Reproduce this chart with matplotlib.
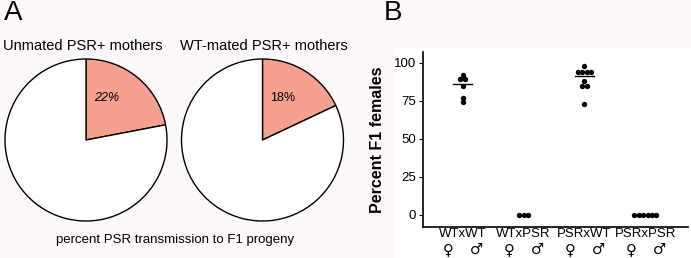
import matplotlib.pyplot as plt
import matplotlib.patches as mpatches
import matplotlib.transforms as mtransforms
import numpy as np

# panel A
pie_titles = ['Unmated PSR+ mothers', 'WT-mated PSR+ mothers']
psr_transmission = [22, 18]
pie_label_italic = [True, False]

# panel B
crosses = ['WTxWT', 'WTxPSR', 'PSRxWT', 'PSRxPSR']
wt_wt = [92, 89, 89, 85, 77, 74]
wt_psr = [0, 0, 0]
psr_wt = [98, 94, 94, 94, 94, 88, 85, 85, 73]
psr_psr = [0, 0, 0, 0, 0, 0]
group_means = [86, 0, 91, 0]

W, H = 691, 258
BG = '#fbf8f7'
SALMON = '#f6a08f'
FONT = ['Liberation Sans', 'DejaVu Sans']

plt.rcParams['font.family'] = FONT

fig = plt.figure(figsize=(W / 100, H / 100), dpi=100, facecolor=BG)


def box(x0, y0, x1, y1):
    # pixel box (top-left origin) -> figure fraction rect
    return [x0 / W, 1 - y1 / H, (x1 - x0) / W, (y1 - y0) / H]


R = 81.0
pie_boxes = [(0, 55, 172, 225), (175, 55, 350, 225)]
for i, (x0, y0, x1, y1) in enumerate(pie_boxes):
    ax = fig.add_axes(box(x0, y0, x1, y1))
    ax.set_facecolor('white')
    for s in ax.spines.values():
        s.set_visible(False)
    ax.set_xticks([])
    ax.set_yticks([])
    val = psr_transmission[i]
    ax.pie([val, 100 - val], colors=[SALMON, 'white'], startangle=90,
           counterclock=False, radius=1.0,
           wedgeprops=dict(edgecolor='black', linewidth=1.0))
    cx = (x1 - x0) / 2.0
    cy = (y1 - y0) / 2.0
    ax.set_xlim(-cx / R, cx / R)
    ax.set_ylim(-cy / R, cy / R)
    ax.set_aspect('auto')
    ax.text(0.25, 0.52, '%d%%' % val, ha='center', va='center', fontsize=9,
            style='italic' if pie_label_italic[i] else 'normal')

fig.text(3 / W, 1 - 46 / H, pie_titles[0], fontsize=10.5, va='center', ha='left')
fig.text(180 / W, 1 - 46 / H, pie_titles[1], fontsize=10.5, va='center', ha='left')
fig.text(175 / W, 1 - 240 / H, 'percent PSR transmission to F1 progeny',
         fontsize=9.5, ha='center', va='center')
fig.text(4 / W, 1 - 13 / H, 'A', fontsize=20, ha='left', va='center')
fig.text(384 / W, 1 - 13 / H, 'B', fontsize=20, ha='left', va='center')

# white backdrop behind panel B plot
fig.patches.append(mpatches.Rectangle((395 / W, 0), 1 - 395 / W, 1 - 48 / H,
                                      transform=fig.transFigure, facecolor='white',
                                      edgecolor='none', zorder=-5))

axb = fig.add_axes(box(423, 52, 688, 227))
axb.set_facecolor('white')
axb.set_zorder(2)
groups = [wt_wt, wt_psr, psr_wt, psr_psr]
dot_w = 0.072
for gi, vals in enumerate(groups):
    xc = gi + 1
    uniq = sorted(set(vals), reverse=True)
    for u in uniq:
        n = vals.count(u)
        offs = (np.arange(n) - (n - 1) / 2.0) * dot_w
        axb.scatter(xc + offs, [u] * n, s=15, color='black', zorder=3, linewidths=0)
    if group_means[gi] > 0:
        axb.plot([xc - 0.16, xc + 0.16], [group_means[gi]] * 2, color='black', lw=1.0)

axb.set_xlim(0.35, 4.7)
axb.set_ylim(-7.9, 107)
axb.set_yticks([0, 25, 50, 75, 100])
axb.set_xticks([1, 2, 3, 4])
axb.set_xticklabels(crosses, fontsize=9.5)
axb.tick_params(axis='x', length=0, pad=0.5)
axb.tick_params(axis='y', length=3, width=0.8, labelsize=9.5, pad=2)
for s in ['top', 'right']:
    axb.spines[s].set_visible(False)
for s in ['left', 'bottom']:
    axb.spines[s].set_linewidth(1.2)
axb.set_ylabel('Percent F1 females', fontsize=11.5, fontweight='bold', labelpad=6)

# female / male symbols under each cross label
trans = mtransforms.blended_transform_factory(axb.transData, fig.transFigure)
sym_y = 1 - 249.5 / H
for gi in range(len(crosses)):
    xc = gi + 1
    axb.text(xc - 0.23, sym_y, '\u2640', transform=trans, ha='center', va='center',
             fontsize=10.5, family='DejaVu Sans', clip_on=False)
    axb.text(xc + 0.23, sym_y, '\u2642', transform=trans, ha='center', va='center',
             fontsize=10.5, family='DejaVu Sans', clip_on=False)

plt.savefig('out.png', dpi=100, facecolor=BG)
